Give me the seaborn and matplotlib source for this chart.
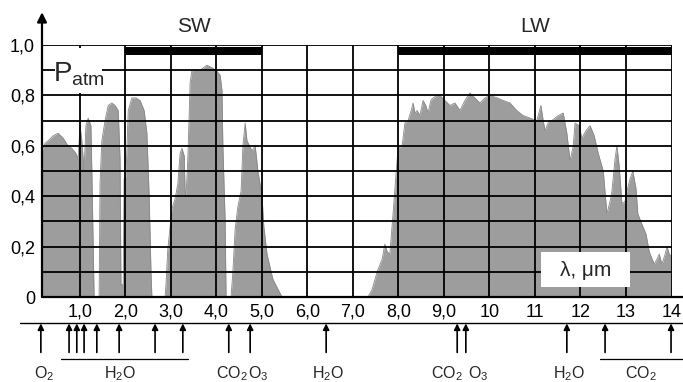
import matplotlib
matplotlib.use("Agg")
import matplotlib.pyplot as plt
import seaborn as sns
import numpy as np
import pandas as pd
from matplotlib.patches import Rectangle

# atmospheric transmission
wavelength = [0.165, 0.23, 0.30, 0.41, 0.52, 0.63, 0.74, 0.82, 0.91, 0.96,
              1.00, 1.04, 1.09, 1.13, 1.18, 1.24, 1.26, 1.29, 1.31, 1.42,
              1.44, 1.48, 1.55, 1.62, 1.70, 1.77, 1.84, 1.88, 1.90, 1.95,
              1.97, 2.01, 2.06, 2.14, 2.23, 2.32, 2.41, 2.47, 2.52, 2.56,
              2.58, 2.87, 2.89, 2.93, 3.02, 3.09, 3.15, 3.20, 3.24, 3.29,
              3.31, 3.33, 3.37, 3.42, 3.46, 3.55, 3.64, 3.79, 3.90, 3.99,
              4.08, 4.12, 4.14, 4.19, 4.21, 4.32, 4.36, 4.41, 4.47, 4.54,
              4.58, 4.63, 4.67, 4.78, 4.85, 4.91, 5.00, 5.04, 5.11, 5.24,
              5.44,
              7.33, 7.42, 7.53, 7.64, 7.70, 7.75, 7.81, 7.88, 7.95, 7.99,
              8.08, 8.14, 8.21, 8.28, 8.32, 8.36, 8.41, 8.47, 8.54, 8.60,
              8.65, 8.71, 8.76, 8.85, 8.91, 9.02, 9.13, 9.24, 9.35, 9.46,
              9.57, 9.68, 9.79, 9.90, 10.01, 10.17, 10.30, 10.45, 10.60, 10.74,
              10.89, 11.04, 11.13, 11.18, 11.22, 11.31, 11.37, 11.51, 11.62, 11.70,
              11.77, 11.84, 11.88, 11.97, 12.03, 12.12, 12.21, 12.30, 12.39, 12.50,
              12.58, 12.65, 12.69, 12.76, 12.80, 12.85, 12.91, 12.98, 13.02, 13.09,
              13.15, 13.22, 13.26, 13.37, 13.44, 13.51, 13.62, 13.68, 13.73, 13.79,
              13.86, 13.90, 13.97, 14.0]
p_atm = [0.58, 0.61, 0.62, 0.64, 0.65, 0.63, 0.60, 0.59, 0.57, 0.55,
         0.68, 0.62, 0.50, 0.68, 0.71, 0.68, 0.50, 0.20, 0.0, 0.0,
         0.45, 0.62, 0.70, 0.76, 0.77, 0.76, 0.74, 0.55, 0.05, 0.05,
         0.47, 0.48, 0.74, 0.79, 0.79, 0.78, 0.74, 0.65, 0.40, 0.10,
         0.0, 0.0, 0.05, 0.19, 0.35, 0.39, 0.45, 0.57, 0.59, 0.56,
         0.42, 0.40, 0.55, 0.85, 0.90, 0.90, 0.90, 0.92, 0.91, 0.90,
         0.88, 0.82, 0.60, 0.30, 0.0, 0.0, 0.10, 0.27, 0.36, 0.42,
         0.60, 0.69, 0.62, 0.58, 0.60, 0.50, 0.40, 0.28, 0.17, 0.07,
         0.0,
         0.0, 0.03, 0.10, 0.15, 0.21, 0.18, 0.17, 0.33, 0.50, 0.59,
         0.60, 0.69, 0.70, 0.74, 0.77, 0.73, 0.74, 0.72, 0.78, 0.76,
         0.73, 0.78, 0.79, 0.80, 0.80, 0.78, 0.76, 0.77, 0.74, 0.78,
         0.81, 0.79, 0.77, 0.79, 0.80, 0.79, 0.78, 0.77, 0.74, 0.72,
         0.71, 0.70, 0.76, 0.70, 0.66, 0.70, 0.70, 0.72, 0.73, 0.65,
         0.54, 0.60, 0.69, 0.68, 0.63, 0.66, 0.68, 0.64, 0.57, 0.50,
         0.33, 0.38, 0.42, 0.55, 0.60, 0.52, 0.37, 0.38, 0.42, 0.47,
         0.50, 0.43, 0.33, 0.28, 0.25, 0.18, 0.13, 0.15, 0.17, 0.13,
         0.17, 0.20, 0.16, 0.17]

band_names = ['SW', 'LW']
band_start = [2.0, 8.0]
band_end = [5.0, 14.0]

x_ticks = list(range(1, 15))
x_labels = ['1,0', '2,0', '3,0', '4,0', '5,0', '6,0', '7,0', '8,0', '9,0',
            '10', '11', '12', '13', '14']
y_ticks = [0, 0.2, 0.4, 0.6, 0.8, 1.0]
y_labels = ['0', '0,2', '0,4', '0,6', '0,8', '1,0']
grid_y = [0.1, 0.2, 0.3, 0.4, 0.5, 0.6, 0.7, 0.8, 0.9, 1.0]

# absorption bands (arrows) and their gas labels
arrow_pos = [0.14, 0.76, 0.93, 1.09, 1.37, 1.86, 2.65, 3.26, 4.27, 4.74,
             6.41, 9.29, 9.48, 11.70, 12.54, 13.99]
gas_names = ['O$_2$', 'H$_2$O', 'CO$_2$', 'O$_3$', 'H$_2$O', 'CO$_2$', 'O$_3$',
             'H$_2$O', 'CO$_2$']
gas_x = [0.21, 1.88, 4.34, 4.91, 6.45, 9.07, 9.75, 11.75, 13.33]
bracket_start = [0.58, 12.43]
bracket_end = [3.37, 14.25]

sns.set_theme(style="white")
plt.rcParams['font.family'] = ['Liberation Sans', 'DejaVu Sans']
plt.rcParams['mathtext.fontset'] = 'custom'
plt.rcParams['mathtext.rm'] = 'Liberation Sans'

fig = plt.figure(figsize=(6.83, 3.82), dpi=100)
ax = fig.add_axes([42 / 683, 85 / 382, 629.5 / 683, 252 / 382])

df = pd.DataFrame({'wl': wavelength, 'p': p_atm})
ax.fill_between(df['wl'], 0, df['p'], color='#9d9d9d', lw=0, zorder=1)
sns.lineplot(data=df, x='wl', y='p', ax=ax, color='#888888', lw=0.6,
             estimator=None, sort=False, zorder=2)

x0, x1 = 0.165, 14.0
ax.set_xlim(x0, x1)
ax.set_ylim(0, 1)
for s in ax.spines.values():
    s.set_visible(False)

# grid
ax.hlines(grid_y, x0, x1, color='black', lw=1.3, zorder=3)
ax.vlines(x_ticks, 0, 1, color='black', lw=1.3, zorder=3)

# white label boxes
ax.add_patch(Rectangle((0.45, 0.81), 1.03, 0.18, fc='white', ec='none', zorder=4))
ax.text(0.97, 0.885, r'P$_{\mathrm{atm}}$', fontsize=20, ha='center', va='center', zorder=5)
ax.add_patch(Rectangle((11.13, 0.04), 1.96, 0.14, fc='white', ec='none', zorder=4))
ax.text(12.12, 0.107, 'λ, μm', fontsize=15, ha='center', va='center', zorder=5)

# SW / LW bars
for name, a, b in zip(band_names, band_start, band_end):
    ax.fill_between([a, b], 0.962, 0.993, color='black', lw=0, zorder=5)
    ax.text((a + b) / 2, 1.075, name, fontsize=15, ha='center', va='center', clip_on=False)

# axes lines
ax.plot([x0, x1 + 0.25], [0, 0], color='black', lw=1.6, clip_on=False, zorder=6)
ax.annotate('', xy=(x0, 1.13), xytext=(x0, 0), annotation_clip=False,
            arrowprops=dict(arrowstyle='-|>', color='black', lw=1.6,
                            mutation_scale=14, shrinkA=0, shrinkB=0))

ax.set_xticks(x_ticks, x_labels)
ax.set_yticks(y_ticks, y_labels)
ax.tick_params(axis='both', length=0, labelsize=13, colors='black')
ax.tick_params(axis='x', pad=5)
ax.tick_params(axis='y', pad=5)
ax.set_xlabel('')
ax.set_ylabel('')

# gas absorption arrows below the axis
ax.plot([-0.32, x1 + 0.25], [-0.103, -0.103], color='black', lw=1.0, clip_on=False)
for xp in arrow_pos:
    ax.annotate('', xy=(xp, -0.105), xytext=(xp, -0.22), annotation_clip=False,
                arrowprops=dict(arrowstyle='-|>', color='black', lw=1.2,
                                mutation_scale=9, shrinkA=0, shrinkB=0))
for a, b in zip(bracket_start, bracket_end):
    ax.plot([a, b], [-0.247, -0.247], color='black', lw=0.9, clip_on=False)
for name, xp in zip(gas_names, gas_x):
    ax.text(xp, -0.305, name, fontsize=11.5, ha='center', va='center', clip_on=False)

fig.savefig('out.png', dpi=100)
